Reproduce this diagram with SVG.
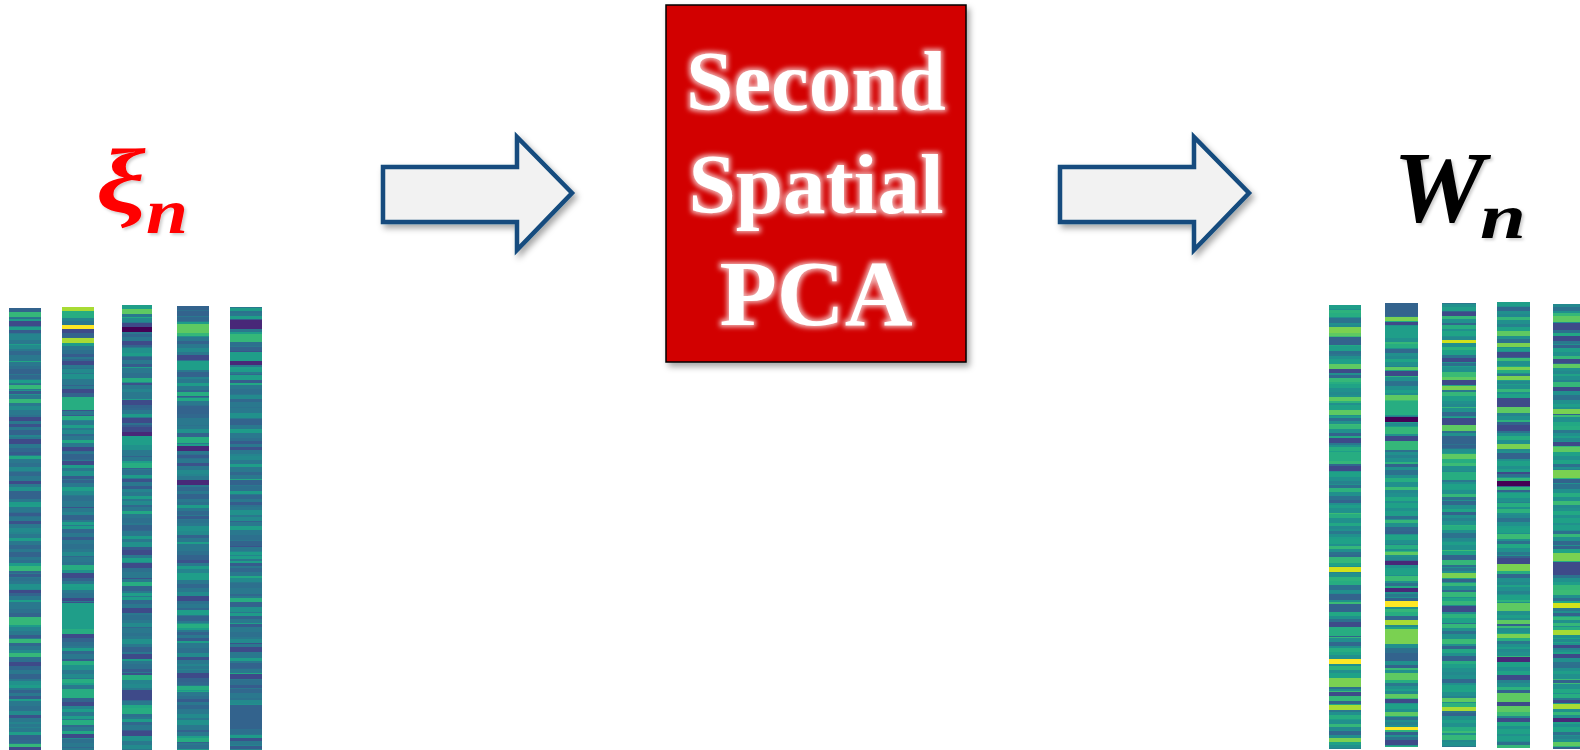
<svg xmlns="http://www.w3.org/2000/svg" width="1580" height="750" viewBox="0 0 1580 750">
  <style>
    .lbl{font-family:"Liberation Serif","Times New Roman",serif;font-weight:bold;font-style:italic}
    .box-text{font-family:"Liberation Serif","Times New Roman",serif;font-weight:bold;fill:#fff;text-anchor:middle}
    .arrow{fill:#f2f2f2;stroke:#124c7e;stroke-width:4.5;stroke-linejoin:miter}
    .col{shape-rendering:crispEdges}
    .baseL{fill:#2a788e}
    .baseR{fill:#21908d}
    .a{fill:#440154}.b{fill:#482878}.c{fill:#3e4a89}.d{fill:#33638d}.e{fill:#1f9e89}
    .f{fill:#27ad81}.g{fill:#35b779}.h{fill:#5ec962}.i{fill:#7ad151}.j{fill:#a8db34}
    .y{fill:#fde725}.z{fill:#d2e21b}
  </style>
  <defs>
    <filter id="shadow" x="-10%" y="-10%" width="125%" height="125%">
      <feDropShadow dx="3" dy="4" stdDeviation="3" flood-color="#000" flood-opacity="0.35"/>
    </filter>
    <filter id="soft" x="-10%" y="-10%" width="125%" height="125%">
      <feDropShadow dx="2" dy="2" stdDeviation="1.5" flood-color="#000" flood-opacity="0.2"/>
    </filter>
    <filter id="glow" x="-20%" y="-30%" width="140%" height="160%">
      <feMorphology in="SourceAlpha" operator="dilate" radius="1.5"/>
      <feGaussianBlur stdDeviation="2.5" result="b"/>
      <feFlood flood-color="#fff" flood-opacity="0.7"/>
      <feComposite in2="b" operator="in" result="g"/>
      <feMerge><feMergeNode in="g"/><feMergeNode in="SourceGraphic"/></feMerge>
    </filter>
    <!-- fine banding textures for the heat-map columns -->
    <pattern id="texL1" patternUnits="userSpaceOnUse" width="1" height="97">
      <rect y="0" width="1" height="4" fill="#31688e"/>
      <rect y="9" width="1" height="3" fill="#2c728e"/>
      <rect y="15" width="1" height="5" fill="#21918c"/>
      <rect y="24" width="1" height="3" fill="#33638d"/>
      <rect y="31" width="1" height="4" fill="#1f9e89"/>
      <rect y="40" width="1" height="5" fill="#2d708e"/>
      <rect y="49" width="1" height="3" fill="#3b528b"/>
      <rect y="56" width="1" height="6" fill="#25848e"/>
      <rect y="66" width="1" height="3" fill="#1f9e89"/>
      <rect y="73" width="1" height="4" fill="#31688e"/>
      <rect y="81" width="1" height="3" fill="#22a884"/>
      <rect y="88" width="1" height="5" fill="#2d708e"/>
    </pattern>
    <pattern id="texL2" patternUnits="userSpaceOnUse" width="1" height="61">
      <rect y="5" width="1" height="3" fill="#365c8d"/>
      <rect y="20" width="1" height="4" fill="#238a8d"/>
      <rect y="33" width="1" height="3" fill="#2a788e"/>
      <rect y="44" width="1" height="5" fill="#33638d"/>
      <rect y="55" width="1" height="3" fill="#1e9c89"/>
    </pattern>
    <pattern id="texR1" patternUnits="userSpaceOnUse" width="1" height="89">
      <rect y="0" width="1" height="4" fill="#22a884"/>
      <rect y="8" width="1" height="3" fill="#2a788e"/>
      <rect y="14" width="1" height="5" fill="#1f9e89"/>
      <rect y="23" width="1" height="3" fill="#35b779"/>
      <rect y="30" width="1" height="4" fill="#31688e"/>
      <rect y="38" width="1" height="5" fill="#20a386"/>
      <rect y="47" width="1" height="3" fill="#26828e"/>
      <rect y="54" width="1" height="4" fill="#2db27d"/>
      <rect y="62" width="1" height="5" fill="#2c728e"/>
      <rect y="71" width="1" height="3" fill="#1f9e89"/>
      <rect y="79" width="1" height="5" fill="#3bbb75"/>
    </pattern>
    <pattern id="texR2" patternUnits="userSpaceOnUse" width="1" height="67">
      <rect y="4" width="1" height="3" fill="#33638d"/>
      <rect y="18" width="1" height="4" fill="#27ad81"/>
      <rect y="30" width="1" height="3" fill="#23898e"/>
      <rect y="43" width="1" height="5" fill="#1fa187"/>
      <rect y="56" width="1" height="3" fill="#2d708e"/>
    </pattern>
  </defs>

  <!-- input label -->
  <g id="label-xi" filter="url(#soft)">
    <text class="lbl" x="96" y="212" font-size="90" fill="#ff0000" textLength="50" lengthAdjust="spacingAndGlyphs">ξ</text>
    <text class="lbl" x="146" y="233" font-size="64" fill="#ff0000" textLength="42" lengthAdjust="spacingAndGlyphs">n</text>
  </g>

  <!-- input columns -->
  <g id="xi-columns">
    <g class="col" transform="translate(9 0) scale(32 1)">
      <rect class="baseL" y="308" width="1" height="442"/>
      <g transform="translate(0 -13)"><rect y="321" width="1" height="442" fill="url(#texL1)"/></g>
      <g transform="translate(0 -41)"><rect y="349" width="1" height="442" fill="url(#texL2)"/></g>
      <path class="g" d="M0 312h1v5H0zM0 385h1v4H0zM0 399h1v4H0zM0 566h1v5H0zM0 617h1v8H0zM0 639h1v4H0zM0 653h1v4H0zM0 744h1v3H0z"/>
      <path class="c" d="M0 321h1v5H0zM0 417h1v4H0zM0 439h1v5H0zM0 481h1v3H0zM0 590h1v3H0zM0 662h1v4H0zM0 747h1v3H0z"/>
      <path class="e" d="M0 327h1v3H0z"/>
    </g>
    <g class="col" transform="translate(62 0) scale(32 1)">
      <rect class="baseL" y="307" width="1" height="443"/>
      <g transform="translate(0 -29)"><rect y="336" width="1" height="443" fill="url(#texL1)"/></g>
      <g transform="translate(0 -17)"><rect y="324" width="1" height="443" fill="url(#texL2)"/></g>
      <path class="j" d="M0 307h1v4H0zM0 338h1v5H0z"/>
      <path class="f" d="M0 311h1v7H0zM0 397h1v13H0zM0 416h1v4H0zM0 565h1v5H0zM0 629h1v5H0zM0 661h1v4H0zM0 679h1v4H0zM0 689h1v9H0zM0 720h1v5H0z"/>
      <path class="y" d="M0 325h1v4H0z"/>
      <path class="e" d="M0 603h1v26H0z"/>
      <path class="c" d="M0 329h1v4H0zM0 361h1v4H0zM0 389h1v4H0zM0 447h1v4H0zM0 461h1v4H0zM0 573h1v5H0zM0 598h1v3H0zM0 634h1v4H0zM0 702h1v4H0zM0 734h1v4H0z"/>
    </g>
    <g class="col" transform="translate(122 0) scale(30 1)">
      <rect class="baseL" y="305" width="1" height="445"/>
      <g transform="translate(0 -55)"><rect y="360" width="1" height="445" fill="url(#texL1)"/></g>
      <g transform="translate(0 -7)"><rect y="312" width="1" height="445" fill="url(#texL2)"/></g>
      <path class="e" d="M0 305h1v4H0zM0 436h1v9H0z"/>
      <path class="h" d="M0 309h1v5H0z"/>
      <path class="c" d="M0 323h1v4H0zM0 341h1v4H0zM0 400h1v5H0zM0 418h1v5H0zM0 427h1v5H0zM0 550h1v5H0zM0 563h1v5H0zM0 608h1v5H0zM0 654h1v5H0zM0 690h1v10H0zM0 731h1v5H0z"/>
      <path class="a" d="M0 327h1v5H0z"/>
      <path class="b" d="M0 432h1v4H0z"/>
      <path class="f" d="M0 378h1v4H0zM0 463h1v5H0zM0 582h1v4H0zM0 675h1v5H0zM0 708h1v6H0z"/>
    </g>
    <g class="col" transform="translate(177 0) scale(32 1)">
      <rect class="baseL" y="306" width="1" height="444"/>
      <g transform="translate(0 -71)"><rect y="377" width="1" height="444" fill="url(#texL1)"/></g>
      <g transform="translate(0 -38)"><rect y="344" width="1" height="444" fill="url(#texL2)"/></g>
      <path class="d" d="M0 306h1v4H0zM0 406h1v8H0z"/>
      <path class="h" d="M0 324h1v9H0z"/>
      <path class="g" d="M0 333h1v3H0z"/>
      <path class="c" d="M0 355h1v5H0zM0 596h1v5H0zM0 673h1v5H0z"/>
      <path class="e" d="M0 361h1v9H0zM0 573h1v7H0zM0 610h1v5H0z"/>
      <path class="f" d="M0 392h1v4H0zM0 437h1v6H0zM0 624h1v4H0zM0 686h1v4H0zM0 738h1v4H0z"/>
      <path class="b" d="M0 446h1v5H0zM0 480h1v5H0z"/>
    </g>
    <g class="col" transform="translate(230 0) scale(32 1)">
      <rect class="baseL" y="307" width="1" height="443"/>
      <g transform="translate(0 -87)"><rect y="394" width="1" height="443" fill="url(#texL1)"/></g>
      <g transform="translate(0 -52)"><rect y="359" width="1" height="443" fill="url(#texL2)"/></g>
      <path class="e" d="M0 316h1v3H0zM0 352h1v9H0zM0 375h1v5H0zM0 556h1v3H0z"/>
      <path class="b" d="M0 320h1v9H0zM0 361h1v4H0z"/>
      <path class="g" d="M0 334h1v8H0z"/>
      <path class="d" d="M0 347h1v4H0zM0 705h1v20H0z"/>
      <path class="f" d="M0 598h1v4H0z"/>
      <path class="c" d="M0 647h1v5H0zM0 674h1v5H0z"/>
    </g>
  </g>

  <!-- connectors -->
  <g id="connectors" filter="url(#shadow)">
    <polygon class="arrow" points="383,167 517,167 517,137 572,193 517,250 517,222 383,222"/>
    <polygon class="arrow" points="1060,167 1194,167 1194,137 1249,193 1194,250 1194,222 1060,222"/>
  </g>

  <!-- processing block -->
  <g id="second-spatial-pca">
    <rect x="666" y="5" width="300" height="357" fill="#d20000" stroke="#000" stroke-width="1.5" filter="url(#shadow)"/>
    <g filter="url(#glow)">
      <text class="box-text" x="816" y="110" font-size="85">Second</text>
      <text class="box-text" x="816" y="213" font-size="85">Spatial</text>
      <text class="box-text" x="816" y="325" font-size="94">PCA</text>
    </g>
  </g>

  <!-- output label -->
  <g id="label-w" filter="url(#soft)">
    <text class="lbl" x="1393" y="222" font-size="101" fill="#000" textLength="92" lengthAdjust="spacingAndGlyphs">W</text>
    <text class="lbl" x="1480" y="238" font-size="64" fill="#000" textLength="46" lengthAdjust="spacingAndGlyphs">n</text>
  </g>

  <!-- output columns -->
  <g id="w-columns">
    <g class="col" transform="translate(1329 0) scale(32 1)">
      <rect class="baseR" y="305" width="1" height="444"/>
      <g transform="translate(0 -11)"><rect y="316" width="1" height="444" fill="url(#texR1)"/></g>
      <g transform="translate(0 -40)"><rect y="345" width="1" height="444" fill="url(#texR2)"/></g>
      <path class="e" d="M0 305h1v4H0zM0 346h1v5H0z"/>
      <path class="i" d="M0 327h1v6H0zM0 678h1v9H0zM0 738h1v4H0z"/>
      <path class="h" d="M0 333h1v3H0zM0 364h1v5H0zM0 397h1v4H0zM0 410h1v5H0z"/>
      <path class="d" d="M0 337h1v8H0zM0 594h1v6H0zM0 604h1v8H0z"/>
      <path class="c" d="M0 369h1v4H0zM0 438h1v5H0zM0 466h1v5H0zM0 622h1v5H0zM0 692h1v4H0z"/>
      <path class="g" d="M0 378h1v4H0zM0 425h1v4H0zM0 461h1v3H0zM0 557h1v6H0zM0 696h1v5H0z"/>
      <path class="f" d="M0 452h1v9H0zM0 627h1v9H0z"/>
      <path class="z" d="M0 567h1v5H0z"/>
      <path class="y" d="M0 659h1v5H0z"/>
      <path class="j" d="M0 705h1v5H0z"/>
    </g>
    <g class="col" transform="translate(1385 0) scale(33 1)">
      <rect class="baseR" y="303" width="1" height="444"/>
      <g transform="translate(0 -37)"><rect y="340" width="1" height="444" fill="url(#texR1)"/></g>
      <g transform="translate(0 -9)"><rect y="312" width="1" height="444" fill="url(#texR2)"/></g>
      <path class="d" d="M0 303h1v13H0zM0 653h1v8H0z"/>
      <path class="i" d="M0 317h1v4H0zM0 629h1v15H0z"/>
      <path class="c" d="M0 322h1v3H0zM0 371h1v5H0zM0 436h1v5H0zM0 699h1v4H0zM0 740h1v5H0z"/>
      <path class="e" d="M0 326h1v9H0z"/>
      <path class="h" d="M0 367h1v3H0zM0 395h1v5H0zM0 552h1v3H0zM0 673h1v7H0zM0 694h1v4H0zM0 712h1v4H0z"/>
      <path class="f" d="M0 401h1v14H0z"/>
      <path class="a" d="M0 417h1v5H0z"/>
      <path class="g" d="M0 427h1v5H0zM0 441h1v9H0z"/>
      <path class="b" d="M0 561h1v4H0zM0 588h1v4H0z"/>
      <path class="y" d="M0 601h1v6H0zM0 727h1v3H0z"/>
      <path class="j" d="M0 620h1v5H0z"/>
    </g>
    <g class="col" transform="translate(1442 0) scale(34 1)">
      <rect class="baseR" y="303" width="1" height="444"/>
      <g transform="translate(0 -63)"><rect y="366" width="1" height="444" fill="url(#texR1)"/></g>
      <g transform="translate(0 -28)"><rect y="331" width="1" height="444" fill="url(#texR2)"/></g>
      <path class="c" d="M0 312h1v4H0zM0 358h1v4H0zM0 380h1v5H0zM0 418h1v7H0zM0 606h1v6H0z"/>
      <path class="d" d="M0 436h1v8H0zM0 555h1v5H0zM0 656h1v5H0z"/>
      <path class="z" d="M0 340h1v3H0z"/>
      <path class="h" d="M0 377h1v3H0zM0 425h1v6H0zM0 454h1v5H0zM0 698h1v4H0z"/>
      <path class="i" d="M0 386h1v4H0zM0 573h1v5H0z"/>
      <path class="g" d="M0 392h1v4H0zM0 560h1v5H0zM0 592h1v5H0zM0 601h1v4H0zM0 624h1v4H0zM0 735h1v5H0z"/>
      <path class="f" d="M0 472h1v8H0z"/>
      <path class="j" d="M0 707h1v4H0z"/>
    </g>
    <g class="col" transform="translate(1497 0) scale(33 1)">
      <rect class="baseR" y="302" width="1" height="446"/>
      <g transform="translate(0 -79)"><rect y="381" width="1" height="446" fill="url(#texR1)"/></g>
      <g transform="translate(0 -51)"><rect y="353" width="1" height="446" fill="url(#texR2)"/></g>
      <path class="e" d="M0 302h1v4H0z"/>
      <path class="g" d="M0 317h1v3H0zM0 487h1v3H0z"/>
      <path class="h" d="M0 331h1v5H0zM0 407h1v6H0zM0 603h1v8H0zM0 620h1v4H0zM0 693h1v9H0zM0 706h1v6H0z"/>
      <path class="i" d="M0 343h1v4H0zM0 367h1v3H0zM0 376h1v4H0zM0 444h1v5H0zM0 564h1v7H0zM0 634h1v4H0z"/>
      <path class="c" d="M0 352h1v5H0zM0 398h1v9H0zM0 425h1v6H0zM0 472h1v2H0zM0 558h1v6H0zM0 675h1v5H0zM0 702h1v4H0zM0 718h1v4H0z"/>
      <path class="d" d="M0 453h1v6H0z"/>
      <path class="a" d="M0 481h1v5H0z"/>
      <path class="b" d="M0 657h1v5H0z"/>
    </g>
    <g class="col" transform="translate(1553 0) scale(34 1)">
      <rect class="baseR" y="304" width="1" height="445"/>
      <g transform="translate(0 -23)"><rect y="327" width="1" height="445" fill="url(#texR1)"/></g>
      <g transform="translate(0 -61)"><rect y="365" width="1" height="445" fill="url(#texR2)"/></g>
      <path class="g" d="M0 313h1v3H0zM0 382h1v5H0zM0 585h1v5H0zM0 617h1v3H0z"/>
      <path class="h" d="M0 316h1v6H0zM0 364h1v4H0zM0 447h1v5H0zM0 742h1v4H0z"/>
      <path class="c" d="M0 323h1v7H0zM0 336h1v5H0zM0 359h1v4H0zM0 387h1v4H0zM0 442h1v4H0zM0 562h1v13H0zM0 645h1v3H0zM0 654h1v4H0zM0 700h1v3H0z"/>
      <path class="i" d="M0 409h1v5H0zM0 470h1v8H0zM0 553h1v8H0z"/>
      <path class="d" d="M0 479h1v4H0z"/>
      <path class="z" d="M0 603h1v5H0z"/>
      <path class="j" d="M0 630h1v5H0zM0 704h1v5H0z"/>
      <path class="b" d="M0 718h1v4H0z"/>
    </g>
  </g>
</svg>
